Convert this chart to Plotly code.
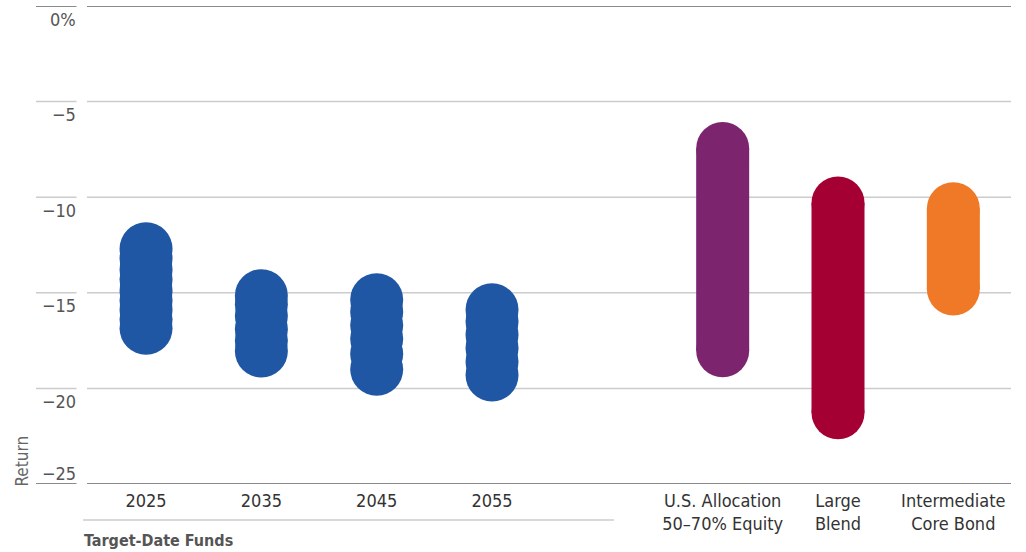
import plotly.graph_objects as go

# ---- data ----
tdf_labels = ["2025", "2035", "2045", "2055"]
tdf_pos = [0, 1, 2, 3]
tdf_2025 = [-12.7, -13.2, -13.8, -14.3, -14.9, -15.4, -15.9, -16.4, -16.86]
tdf_2035 = [-15.15, -15.6, -16.2, -16.9, -17.5, -18.05]
tdf_2045 = [-15.36, -16.0, -16.7, -17.4, -18.2, -19.0]
tdf_2055 = [-15.88, -16.5, -17.2, -17.9, -18.6, -19.3]
tdf_values = [tdf_2025, tdf_2035, tdf_2045, tdf_2055]

cat_labels = ["U.S. Allocation<br>50–70% Equity", "Large<br>Blend", "Intermediate<br>Core Bond"]
cat_pos = [5, 6, 7]
cat_high = [-7.45, -10.3, -10.6]
cat_low = [-18.03, -21.27, -14.8]
cat_colors = ["#7C246E", "#A50034", "#EF7926"]
tdf_color = "#2057A5"

y_ticks = [0, -5, -10, -15, -20, -25]
y_ticktext = ["0%", "\u22125", "\u221210", "\u221215", "\u221220", "\u221225"]

FONT = "DejaVu Sans Condensed, Liberation Sans Narrow, sans-serif"
SIZE = 53

fig = go.Figure()
for p, vals in zip(tdf_pos, tdf_values):
    fig.add_trace(go.Scatter(
        x=[p] * len(vals), y=vals, mode="markers",
        marker=dict(size=SIZE, color=tdf_color, line=dict(width=0)),
        hoverinfo="y", showlegend=False))
for p, hi, lo, c in zip(cat_pos, cat_high, cat_low, cat_colors):
    fig.add_trace(go.Scatter(
        x=[p, p], y=[hi, lo], mode="lines+markers",
        line=dict(width=SIZE, color=c),
        marker=dict(size=SIZE, color=c, line=dict(width=0)),
        hoverinfo="y", showlegend=False))

W, H = 1026, 552
L, R, T, B = 87, 15, 6, 68
pw = W - L - R
ph = H - T - B

def px_to_xpaper(px):
    return (px - L) / pw

def px_to_ypaper(py):
    return (H - B - py) / ph

shapes = []
annotations = []
for v, t in zip(y_ticks, y_ticktext):
    edge = v in (0, -25)
    col = "#8a8a8a" if edge else "#cccccc"
    wid = 2 if edge else 1.5
    shapes.append(dict(type="line", xref="paper", yref="y", x0=0, x1=1, y0=v, y1=v,
                       line=dict(color=col, width=wid), layer="below"))
    shapes.append(dict(type="line", xref="paper", yref="y", x0=px_to_xpaper(36),
                       x1=px_to_xpaper(76.5), y0=v, y1=v,
                       line=dict(color=col, width=wid), layer="below"))
    annotations.append(dict(text=t, xref="paper", yref="y", x=px_to_xpaper(78), y=v,
                            xanchor="right", yanchor="middle",
                            yshift=(11 if v == -25 else -13), showarrow=False,
                            font=dict(family=FONT, size=18, color="#555555")))

# group line under target-date funds
shapes.append(dict(type="line", xref="paper", yref="paper", x0=px_to_xpaper(83),
                   x1=px_to_xpaper(614), y0=px_to_ypaper(520), y1=px_to_ypaper(520),
                   line=dict(color="#cccccc", width=1.5)))
annotations.append(dict(text="<b>Target-Date Funds</b>", xref="paper", yref="paper",
                        x=px_to_xpaper(82), y=px_to_ypaper(540), xanchor="left",
                        yanchor="middle", showarrow=False,
                        font=dict(family=FONT, size=16, color="#555555")))
annotations.append(dict(text="Return", xref="paper", yref="paper",
                        x=px_to_xpaper(22), y=px_to_ypaper(489), xanchor="center",
                        yanchor="bottom", textangle=-90, showarrow=False,
                        font=dict(family=FONT, size=17, color="#666666")))

fig.update_layout(
    width=W, height=H,
    margin=dict(l=L, r=R, t=T, b=B, pad=0),
    paper_bgcolor="white", plot_bgcolor="white",
    shapes=shapes, annotations=annotations,
    xaxis=dict(range=[-0.512, 7.5], tickvals=tdf_pos + cat_pos,
               ticktext=tdf_labels + cat_labels, showgrid=False, zeroline=False,
               showline=False, ticks="", ticklabelstandoff=4,
               tickfont=dict(family=FONT, size=18, color="#333333")),
    yaxis=dict(range=[-25, 0], showgrid=False, zeroline=False, showline=False,
               showticklabels=False, ticks=""),
)

fig.write_html("out.html", include_plotlyjs=True, config={"displayModeBar": False},
               post_script="document.body.style.margin='0';")
